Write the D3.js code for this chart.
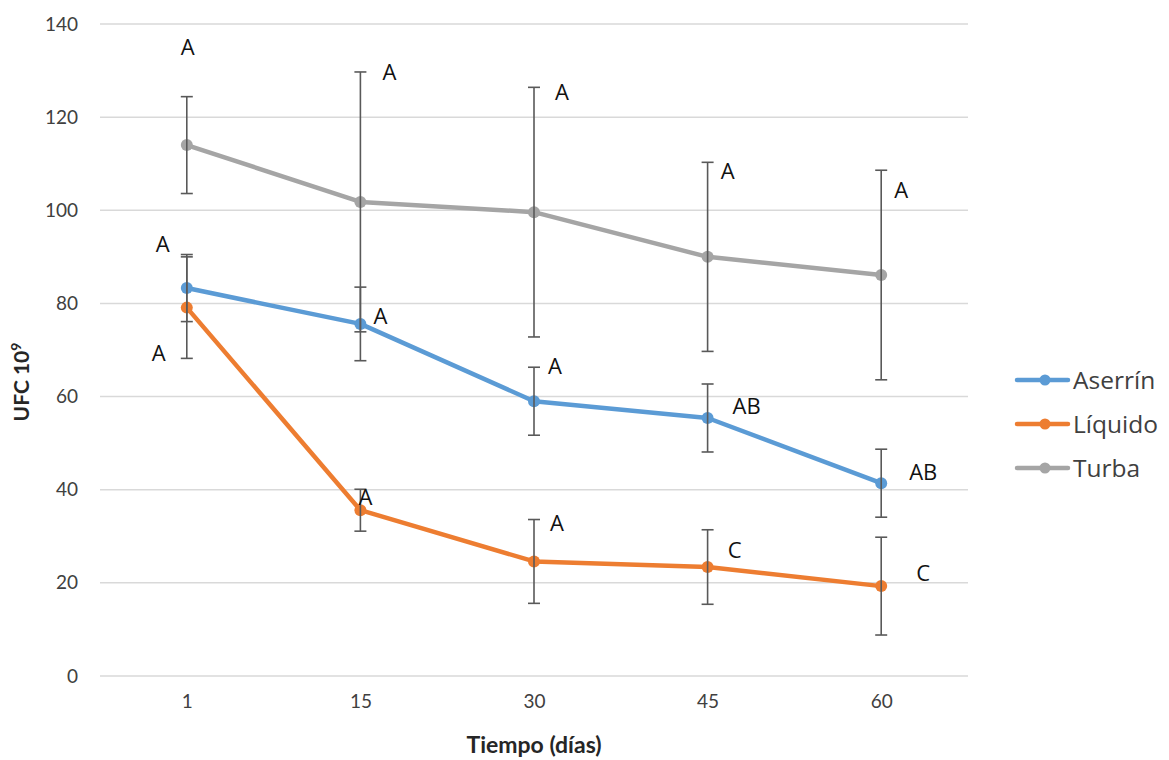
<!DOCTYPE html>
<html><head><meta charset="utf-8">
<script src="https://cdn.jsdelivr.net/npm/d3@7"></script>
<style>html,body{margin:0;padding:0;background:#fff;}svg{display:block;}</style>
</head><body>
<svg id="chart" width="1169" height="760"></svg>
<script>
// ---- data ----
const categories = ["1", "15", "30", "45", "60"];
const seriesNames = ["Aserrín", "Líquido", "Turba"];
const aserrin = [83.3, 75.6, 59.0, 55.4, 41.4];
const liquido = [79.1, 35.6, 24.6, 23.4, 19.3];
const turba   = [114.0, 101.8, 99.6, 90.0, 86.1];
const errAserrin = [7.2, 7.9, 7.3, 7.3, 7.3];
const errLiquido = [10.9, 4.5, 9.0, 8.0, 10.5];
const errTurba   = [10.4, 27.9, 26.8, 20.3, 22.5];
const lettersAserrin = ["A", "A", "A", "AB", "AB"];
const lettersLiquido = ["A", "A", "A", "C", "C"];
const lettersTurba   = ["A", "A", "A", "A", "A"];
const yTicks = [0, 20, 40, 60, 80, 100, 120, 140];

// label offsets (px) relative to each point
const offAserrin = [[-24,-44],[20,-8],[21,-35],[39,-12],[42,-11]];
const offLiquido = [[-28,45],[5,-13],[23,-38],[27,-17],[42,-13]];
const offTurba   = [[1,-98],[29,-130],[28,-120],[20,-86],[20,-85]];

const colors = {"Aserrín":"#5B9BD5","Líquido":"#ED7D31","Turba":"#A5A5A5"};

const series = [
  {name: seriesNames[0], values: aserrin, err: errAserrin, letters: lettersAserrin, off: offAserrin},
  {name: seriesNames[1], values: liquido, err: errLiquido, letters: lettersLiquido, off: offLiquido},
  {name: seriesNames[2], values: turba, err: errTurba, letters: lettersTurba, off: offTurba}
];

const svg = d3.select("#chart");
const x = d3.scalePoint().domain(categories).range([100, 968]).padding(0.5);
const y = d3.scaleLinear().domain([0, 140]).range([676, 24]);

// gridlines
svg.append("g").selectAll("line").data(yTicks).join("line")
  .attr("x1", 100).attr("x2", 968)
  .attr("y1", d => y(d)).attr("y2", d => y(d))
  .attr("stroke", "#d9d9d9").attr("stroke-width", 1.5);

// y axis labels
const yAxis = d3.axisLeft(y).tickValues(yTicks).tickSize(0).tickPadding(0);
const gy = svg.append("g").attr("transform", "translate(78,0)").call(yAxis);
gy.select(".domain").remove();
gy.selectAll("text").attr("font-family", "Lato, 'Open Sans', sans-serif").attr("font-size", 19).attr("fill", "#404040");

// x axis labels
const xAxis = d3.axisBottom(x).tickSize(0).tickPadding(0);
const gx = svg.append("g").attr("transform", "translate(0,694)").call(xAxis);
gx.select(".domain").remove();
gx.selectAll("text").attr("font-family", "Lato, 'Open Sans', sans-serif").attr("font-size", 19).attr("fill", "#404040");

// axis titles
svg.append("text").attr("x", 534).attr("y", 753).attr("text-anchor", "middle")
  .attr("font-family", "Lato, 'Open Sans', sans-serif").attr("font-weight", "bold").attr("font-size", 23)
  .attr("fill", "#262626").text("Tiempo (días)");
const yt = svg.append("text").attr("transform", "translate(29,382) rotate(-90)").attr("text-anchor", "middle")
  .attr("font-family", "Lato, 'Open Sans', sans-serif").attr("font-weight", "bold").attr("font-size", 21)
  .attr("fill", "#262626");
yt.append("tspan").text("UFC 10");
yt.append("tspan").attr("font-size", 14).attr("dy", -8).text("9");

const line = d3.line().x((d, i) => x(categories[i])).y(d => y(d));

// lines
series.forEach(s => {
  svg.append("path").datum(s.values).attr("d", line)
    .attr("fill", "none").attr("stroke", colors[s.name]).attr("stroke-width", 4.5)
    .attr("stroke-linejoin", "round").attr("stroke-linecap", "round");
});

// markers
series.forEach(s => {
  svg.append("g").selectAll("circle").data(s.values).join("circle")
    .attr("cx", (d, i) => x(categories[i])).attr("cy", d => y(d)).attr("r", 6)
    .attr("fill", colors[s.name]);
});

// error bars
series.forEach(s => {
  const g = svg.append("g").attr("stroke", "#595959").attr("stroke-width", 1.6);
  s.values.forEach((v, i) => {
    const cx = x(categories[i]);
    const top = y(v + s.err[i]), bot = y(v - s.err[i]);
    g.append("line").attr("x1", cx).attr("x2", cx).attr("y1", top).attr("y2", bot);
    g.append("line").attr("x1", cx - 6).attr("x2", cx + 6).attr("y1", top).attr("y2", top);
    g.append("line").attr("x1", cx - 6).attr("x2", cx + 6).attr("y1", bot).attr("y2", bot);
  });
});

// letters
series.forEach(s => {
  svg.append("g").selectAll("text").data(s.values).join("text")
    .attr("x", (d, i) => x(categories[i]) + s.off[i][0])
    .attr("y", (d, i) => y(d) + s.off[i][1])
    .attr("dy", "0.36em").attr("text-anchor", "middle")
    .attr("font-family", "'Open Sans', Lato, sans-serif").attr("font-size", 22).attr("fill", "#111")
    .text((d, i) => s.letters[i]);
});

// legend
const lg = svg.append("g").selectAll("g").data(series).join("g")
  .attr("transform", (d, i) => `translate(1017,${380 + i * 44})`);
lg.append("line").attr("x1", 0).attr("x2", 51).attr("y1", 0).attr("y2", 0)
  .attr("stroke", d => colors[d.name]).attr("stroke-width", 4.5).attr("stroke-linecap", "round");
lg.append("circle").attr("cx", 28).attr("cy", 0).attr("r", 5.5).attr("fill", d => colors[d.name]);
lg.append("text").attr("x", 56).attr("dy", "0.36em")
  .attr("font-family", "'Open Sans', sans-serif").attr("font-size", 24.5).attr("fill", "#404040")
  .text(d => d.name);
</script>
</body></html>
